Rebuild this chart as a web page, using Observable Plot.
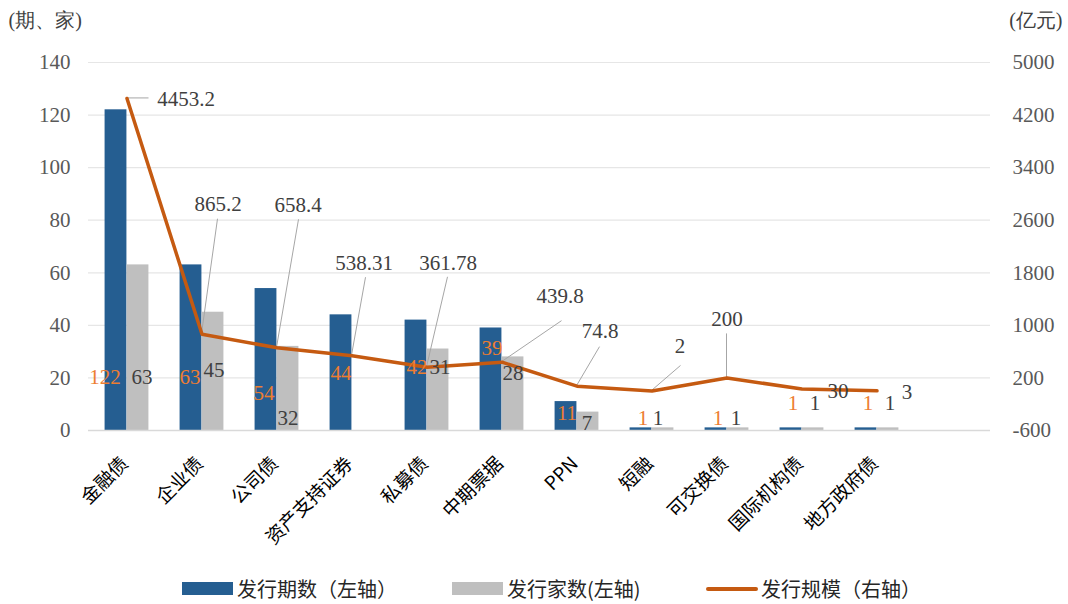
<!DOCTYPE html>
<html>
<head>
<meta charset="utf-8">
<script src="https://cdn.jsdelivr.net/npm/d3@7"></script>
<script src="https://cdn.jsdelivr.net/npm/@observablehq/plot@0.6"></script>
<style>
  html, body { margin: 0; padding: 0; background: #fff; }
  #wrap { position: relative; width: 1068px; height: 604px; overflow: hidden; }
  .lg { position: absolute; top: 577px; height: 24px; line-height: 24px; font-family: "Noto Sans CJK SC", "Noto Sans", sans-serif; font-size: 20px; color: #262626; white-space: nowrap; }
  .sw { position: absolute; }
</style>
</head>
<body>
<div id="wrap"></div>
<script>
// ---------- data ----------
const categories = ["金融债", "企业债", "公司债", "资产支持证券", "私募债", "中期票据", "PPN", "短融", "可交换债", "国际机构债", "地方政府债"];
const issueCount = [122, 63, 54, 44, 42, 39, 11, 1, 1, 1, 1];            // 发行期数（左轴）
const issuerCount = [63, 45, 32, null, 31, 28, 7, 1, 1, 1, 1];           // 发行家数（左轴）
const issueScale = [4453.2, 865.2, 658.4, 538.31, 361.78, 439.8, 74.8, 2, 200, 30, 3]; // 发行规模（右轴，亿元）
const leftTicks = [0, 20, 40, 60, 80, 100, 120, 140];
const rightTicks = [-600, 200, 1000, 1800, 2600, 3400, 4200, 5000];

// ---------- layout (pixel offsets of annotations) ----------
const countLabelOffsets = [[-22,-53],[-12,-53],[-13,-37],[-11,-57],[-10,-63],[-10,-82],[-10,-17],[-9,-12],[-9,-12],[-9,-27],[-9,-27]];
const issuerLabelOffsets = [[15,-53],[12,-60],[11,-12],null,[13,-63],[11,-57],[10,-7],[6,-12],[9,-12],[13,-27],[13,-27]];
const scaleLabelOffsets = [[59,1],[16,-130],[21,-143],[12,-92],[21,-104],[58,-66],[23,-55],[28,-45],[0,-59],[36,2],[30,1]];
const leaderEnds = [[22,0],[16,-115],[22,-128],[14,-78],[21,-90],[60,-41],[23,-39],[29,-25],[0,-44],null,null];

const W = 1068, H = 604, ML = 88, MR = 78, MT = 62, MB = 174;
const BAR_W = 22;
const xDomain = [...categories, ""];
const band = (W - ML - MR) / xDomain.length;

const lMin = leftTicks[0], lMax = leftTicks[leftTicks.length - 1];
const rMin = rightTicks[0], rMax = rightTicks[rightTicks.length - 1];
const toLeft = v => lMin + (v - rMin) * (lMax - lMin) / (rMax - rMin);
const toRight = v => Math.round(rMin + (v - lMin) * (rMax - rMin) / (lMax - lMin));

const rows = categories.map((c, i) => ({cat: c, issues: issueCount[i], issuers: issuerCount[i], scale: issueScale[i]}));

const NUM_FONT = "'Liberation Serif', 'Times New Roman', Tinos, 'DejaVu Serif', serif";
const CJK_FONT = "'Noto Sans CJK SC', sans-serif";
const BLUE = "#255E91", GRAY = "#BFBFBF", ORANGE = "#C55A11", LABEL_ORANGE = "#ED7D31", TXT = "#404040";

function leaders(index, scales) {
  const x = scales.x, y = scales.y;
  const off = x.bandwidth ? x.bandwidth() / 2 : 0;
  const g = d3.create("svg:g").attr("stroke", "#A6A6A6").attr("stroke-width", 1).attr("fill", "none");
  rows.forEach((d, i) => {
    const e = leaderEnds[i];
    if (!e) return;
    const px = x(d.cat) + off, py = y(toLeft(d.scale));
    g.append("line").attr("x1", px).attr("y1", py).attr("x2", px + e[0]).attr("y2", py + e[1]);
  });
  return g.node();
}

const countLabels = rows.map((d, i) => Plot.text([d], {
  x: "cat", frameAnchor: "bottom", lineAnchor: "middle", text: r => String(r.issues),
  dx: countLabelOffsets[i][0], dy: countLabelOffsets[i][1],
  fill: LABEL_ORANGE, fontSize: 21, fontFamily: NUM_FONT
}));
const issuerLabels = rows.map((d, i) => issuerLabelOffsets[i] == null ? null : Plot.text([d], {
  x: "cat", frameAnchor: "bottom", lineAnchor: "middle", text: r => String(r.issuers),
  dx: issuerLabelOffsets[i][0], dy: issuerLabelOffsets[i][1],
  fill: TXT, fontSize: 21, fontFamily: NUM_FONT
})).filter(Boolean);
const scaleLabels = rows.map((d, i) => Plot.text([d], {
  x: "cat", y: r => toLeft(r.scale), lineAnchor: "middle", text: r => String(r.scale),
  dx: scaleLabelOffsets[i][0], dy: scaleLabelOffsets[i][1],
  fill: TXT, fontSize: 21, fontFamily: NUM_FONT
}));

const chart = Plot.plot({
  width: W, height: H,
  marginLeft: ML, marginRight: MR, marginTop: MT, marginBottom: MB,
  style: {background: "transparent", overflow: "visible", fontFamily: NUM_FONT},
  x: {type: "band", domain: xDomain, padding: 0, axis: null},
  y: {domain: [lMin, lMax], axis: null},
  marks: [
    Plot.gridY(leftTicks, {stroke: "#E6E6E6", strokeOpacity: 1, strokeWidth: 1.2}),
    Plot.barY(rows, {x: "cat", y: "issues", fill: BLUE, insetLeft: band / 2 - BAR_W, insetRight: band / 2}),
    Plot.barY(rows.filter(d => d.issuers != null), {x: "cat", y: "issuers", fill: GRAY, insetLeft: band / 2, insetRight: band / 2 - BAR_W}),
    Plot.ruleY([0], {stroke: "#D9D9D9", strokeWidth: 1.5}),
    leaders,
    Plot.line(rows, {x: "cat", y: d => toLeft(d.scale), stroke: ORANGE, strokeWidth: 3.5, strokeLinejoin: "round", strokeLinecap: "round"}),
    ...countLabels,
    ...issuerLabels,
    ...scaleLabels,
    Plot.axisY(leftTicks, {anchor: "left", tickSize: 0, tickPadding: 18, fontSize: 21, fontFamily: NUM_FONT, color: "#595959", label: null}),
    Plot.axisY(leftTicks, {anchor: "right", tickSize: 0, tickPadding: 22, fontSize: 21, fontFamily: NUM_FONT, color: "#595959", label: null, tickFormat: d => String(toRight(d))}),
    Plot.text(categories, {x: d => d, frameAnchor: "bottom", lineAnchor: "middle", textAnchor: "end", rotate: -45, dx: -2, dy: 30, fontSize: 19, fontFamily: CJK_FONT, fill: "#000"}),
    Plot.text(["(期、家)"], {frameAnchor: "top-left", textAnchor: "start", lineAnchor: "middle", dx: 8 - ML, dy: 20 - MT, fontSize: 20, fontFamily: NUM_FONT, fill: TXT}),
    Plot.text(["(亿元)"], {frameAnchor: "top-right", textAnchor: "end", lineAnchor: "middle", dx: MR - 6, dy: 20 - MT, fontSize: 20, fontFamily: NUM_FONT, fill: TXT})
  ]
});

const wrap = document.getElementById("wrap");
wrap.appendChild(chart);

// ---------- legend ----------
const legendItems = [
  {label: "发行期数（左轴）", color: BLUE, kind: "rect", left: 182},
  {label: "发行家数(左轴)", color: GRAY, kind: "rect", left: 452},
  {label: "发行规模（右轴）", color: ORANGE, kind: "line", left: 706}
];
legendItems.forEach(it => {
  const sw = document.createElement("div");
  sw.className = "sw";
  if (it.kind === "rect") {
    Object.assign(sw.style, {left: it.left + "px", top: "582px", width: "51px", height: "13px", background: it.color});
  } else {
    Object.assign(sw.style, {left: it.left + "px", top: "587px", width: "52px", height: "4px", background: it.color, borderRadius: "2px"});
  }
  wrap.appendChild(sw);
  const t = document.createElement("div");
  t.className = "lg";
  t.style.left = (it.left + 55) + "px";
  t.textContent = it.label;
  wrap.appendChild(t);
});
</script>
</body>
</html>
